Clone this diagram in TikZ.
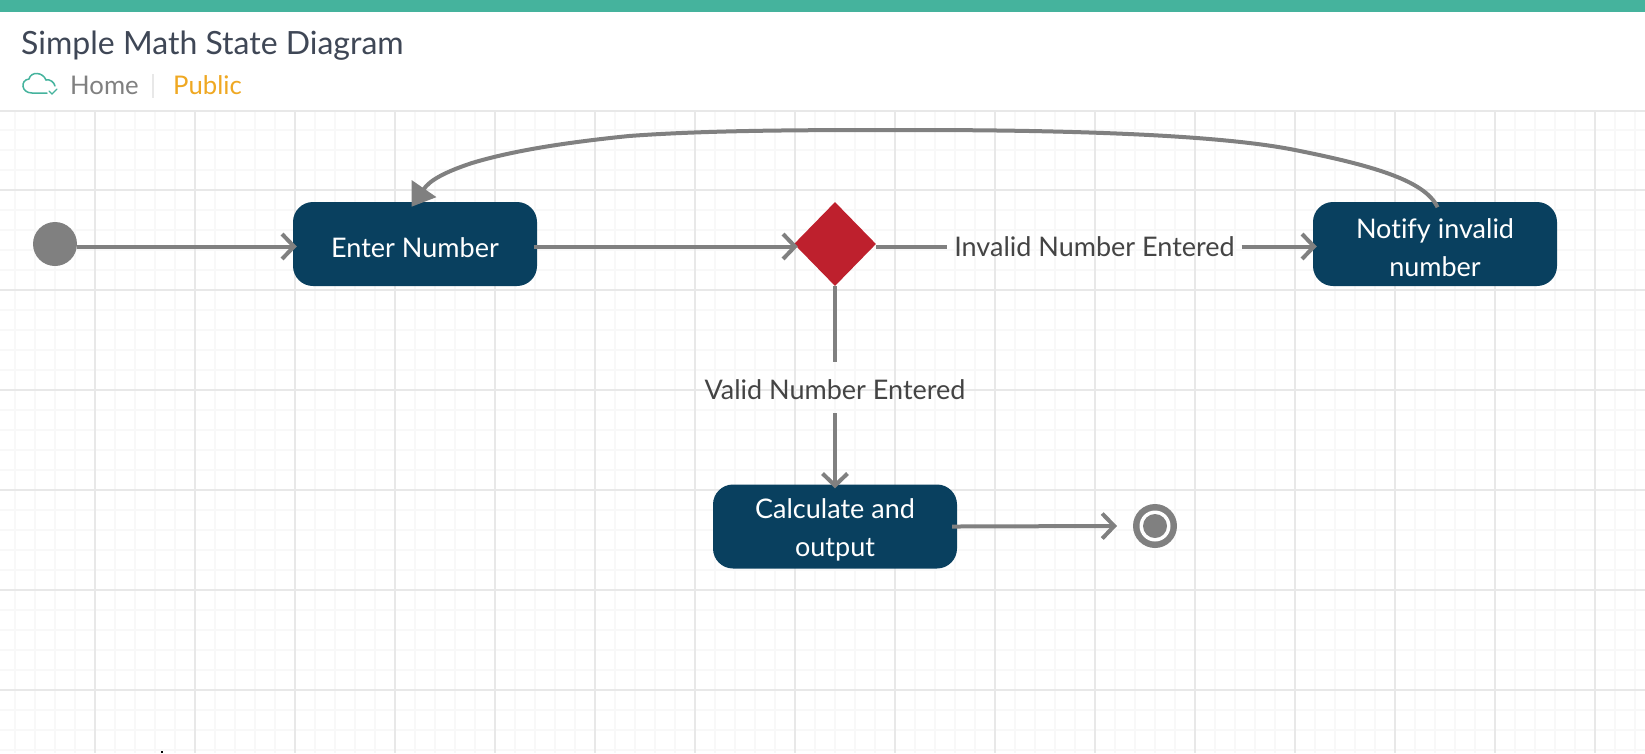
\documentclass[tikz,border=0pt]{standalone}
\usepackage{fontspec}
\setmainfont{Lato}[Ligatures=NoCommon]
\usetikzlibrary{arrows.meta,shapes.geometric}
\definecolor{teal0}{HTML}{45B39D}
\definecolor{navy0}{HTML}{09405F}
\definecolor{red0}{HTML}{BE202D}
\definecolor{grey0}{HTML}{808080}
\definecolor{text0}{HTML}{444444}
\definecolor{title0}{HTML}{3F4756}
\definecolor{orange0}{HTML}{EFA822}
\definecolor{gmaj}{HTML}{E8E8E8}
\definecolor{gmin}{HTML}{F8F8F8}
\tikzset{
  statebox/.style={fill=navy0,rounded corners=20pt,minimum width=244pt,minimum height=84pt,inner sep=0pt},
  boxtext/.style={text=white,align=center,font=\fontsize{27}{38}\selectfont,inner sep=0pt,yshift=-3.5pt},
  conn/.style={draw=grey0,line width=4pt},
  barb/.style={-{Straight Barb[length=12pt,width=25pt,line width=4pt]},shorten >=-4pt},
  edgelabel/.style={text=text0,font=\fontsize{27}{32}\selectfont,inner sep=0pt,outer xsep=7pt,outer ysep=13pt},
}
\begin{document}
\begin{tikzpicture}[x=1pt,y=-1pt]
\useasboundingbox (0,0) rectangle (1645,753);
\fill[white] (0,0) rectangle (1645,753);
% grid
\foreach \x in {15,35,55,75,115,135,155,175,215,235,255,275,315,335,355,375,415,435,455,475,515,535,555,575,615,635,655,675,715,735,755,775,815,835,855,875,915,935,955,975,1015,1035,1055,1075,1115,1135,1155,1175,1215,1235,1255,1275,1315,1335,1355,1375,1415,1435,1455,1475,1515,1535,1555,1575,1615,1635}
  \draw[gmin,line width=1.5pt] (\x,111) -- (\x,753);
\foreach \y in {130,150,170,210,230,250,270,310,330,350,370,410,430,450,470,510,530,550,570,610,630,650,670,710,730,750}
  \draw[gmin,line width=1.5pt] (0,\y) -- (1645,\y);
\foreach \x in {95,195,...,1595}
  \draw[gmaj,line width=2pt] (\x,111) -- (\x,753);
\foreach \y in {190,290,...,690}
  \draw[gmaj,line width=2pt] (0,\y) -- (1645,\y);
\fill[black] (161,751) rectangle (163,753);
% header
\fill[teal0] (0,0) rectangle (1645,12);
\draw[gmaj,line width=2pt] (0,111) -- (1645,111);
\node[anchor=base west,inner sep=0pt,text=title0,font=\fontsize{32}{36}\selectfont] (title) at (21,54) {Simple Math State Diagram};
\node[anchor=base west,inner sep=0pt,text=grey0,font=\fontsize{25.7}{30}\selectfont] (home) at (70,94) {Home};
\draw[gmaj,line width=2pt] (153,74) -- (153,98);
\node[anchor=base west,inner sep=0pt,text=orange0,font=\fontsize{25.7}{30}\selectfont] (public) at (173,94) {Public};
% cloud
\draw[teal0,line width=1.5pt,line cap=round] (47,93) -- (32,93) .. controls (21,93) and (20,80) .. (29,79) .. controls (31,71) and (43,72) .. (46,80) .. controls (50,79) and (54,82) .. (55,86);
\draw[teal0,line width=1.3pt,line cap=round] (49,91) -- (52,94) -- (57,89);
% nodes
\node[circle,fill=grey0,minimum size=44pt,inner sep=0pt] (start) at (55,244) {};
\node[statebox,label={[boxtext]center:{Enter Number}}] (enter) at (415,244) {};
\node[diamond,fill=red0,minimum width=82pt,minimum height=84pt,inner sep=0pt] (dec) at (835,244) {};
\node[statebox,label={[boxtext]center:{Notify invalid\\number}}] (notify) at (1435,244) {};
\node[statebox,label={[boxtext]center:{Calculate and\\output}}] (calc) at (835,526.5) {};
\node[circle,fill=grey0,minimum size=44pt,inner sep=0pt] (final) at (1155,526) {};
\node[circle,fill=white,minimum size=31pt,inner sep=0pt] (finalring) at (final) {};
\node[circle,fill=grey0,minimum size=24pt,inner sep=0pt] (finalcore) at (final) {};
\node[edgelabel] (invalid) at (1094.5,247) {Invalid Number Entered};
\node[edgelabel] (valid) at (835,390) {Valid Number Entered};
% connectors
\draw[conn,barb] (start.east |- 0,246.5) -- (enter.west |- 0,246.5);
\draw[conn,barb,shorten <=-3pt] (enter.east |- 0,246.5) -- (dec.west |- 0,246.5);
\draw[conn] (dec.east |- 0,246.5) -- (invalid.west |- 0,246.5);
\draw[conn,barb] (invalid.east |- 0,246.5) -- (notify.west |- 0,246.5);
\draw[conn,shorten >=5pt] (dec.south) -- (valid.north);
\draw[conn,barb] (valid.south) -- (calc.north);
\draw[conn,barb,shorten <=-5pt] (calc.east) -- (final.west -| 1113,526);
\draw[conn,-{Triangle[length=22pt,width=29pt]},shorten >=-6pt,shorten <=-6pt]
  (notify.north) .. controls (1425,180) and (1370,165) .. (1295,150)
  .. controls (1210,133) and (1040,130) .. (912,130)
  .. controls (810,130) and (710,130) .. (629,136)
  .. controls (570,142) and (515,150) .. (472,163)
  .. controls (445,172) and (430,180) .. (enter.north);
\end{tikzpicture}
\end{document}
